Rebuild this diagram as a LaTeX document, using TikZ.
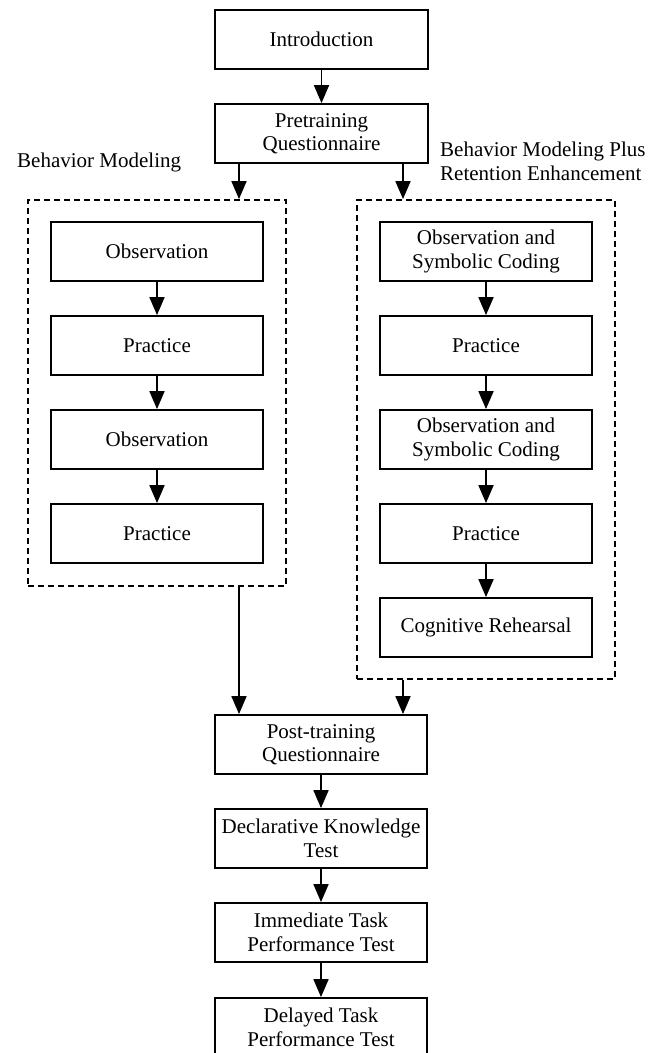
\documentclass[tikz,border=0pt]{standalone}
\usepackage{fontspec}
\setmainfont{Liberation Serif}
\usetikzlibrary{arrows.meta}
\tikzset{
  box/.style={draw, line width=1.8pt, minimum width=212pt, minimum height=59pt, align=center, inner sep=2pt},
  group/.style={draw, line width=1.8pt, dash pattern=on 6pt off 4pt, inner sep=0pt},
  arr/.style={line width=1.8pt, -{Triangle[width=15pt,length=18pt]}},
  lbl/.style={anchor=west, align=left, inner sep=0pt},
}
\begin{document}
\begin{tikzpicture}[x=1pt,y=-1pt,font=\fontsize{21}{23.5}\selectfont]
\useasboundingbox (0,0) rectangle (658,1053);
\clip (0,0) rectangle (658,1053);
\node[box, minimum width=213pt] (intro) at (321.5,39.5) {Introduction};
\node[box, minimum width=213pt] (pre) at (321.5,133.5) {Pretraining\\Questionnaire};
\node[group, minimum width=258pt, minimum height=386pt] (lg) at (157,393) {};
\node[group, minimum width=258pt, minimum height=479pt] (rg) at (486,439.5) {};
\node[lbl] (lt) at (17,162) {Behavior Modeling};
\node[lbl] (rt) at (440,161.5) {Behavior Modeling Plus\\Retention Enhancement};
\node[box] (l1) at (157,251.5) {Observation};
\node[box] (l2) at (157,345.5) {Practice};
\node[box] (l3) at (157,439.5) {Observation};
\node[box] (l4) at (157,533.5) {Practice};
\node[box] (r1) at (486,251.5) {Observation and\\Symbolic Coding};
\node[box] (r2) at (486,345.5) {Practice};
\node[box] (r3) at (486,439.5) {Observation and\\Symbolic Coding};
\node[box] (r4) at (486,533.5) {Practice};
\node[box] (r5) at (486,627.5) {Cognitive Rehearsal};
\node[box] (post) at (321,744.5) {Post-training\\Questionnaire};
\node[box] (decl) at (321,838.5) {Declarative Knowledge\\Test};
\node[box] (imm) at (321,932.5) {Immediate Task\\Performance Test};
\node[box] (del) at (321,1027.5) {Delayed Task\\Performance Test};
\coordinate (lx) at (239,0);
\coordinate (rx) at (403,0);
\draw[arr] (intro) -- (pre);
\draw[arr] (pre.south -| lx) -- (lg.north -| lx);
\draw[arr] (pre.south -| rx) -- (rg.north -| rx);
\draw[arr] (l1) -- (l2);
\draw[arr] (l2) -- (l3);
\draw[arr] (l3) -- (l4);
\draw[arr] (r1) -- (r2);
\draw[arr] (r2) -- (r3);
\draw[arr] (r3) -- (r4);
\draw[arr] (r4) -- (r5);
\draw[arr] (lg.south -| lx) -- (post.north -| lx);
\draw[arr] (rg.south -| rx) -- (post.north -| rx);
\draw[arr] (post) -- (decl);
\draw[arr] (decl) -- (imm);
\draw[arr] (imm) -- (del);
\end{tikzpicture}
\end{document}
